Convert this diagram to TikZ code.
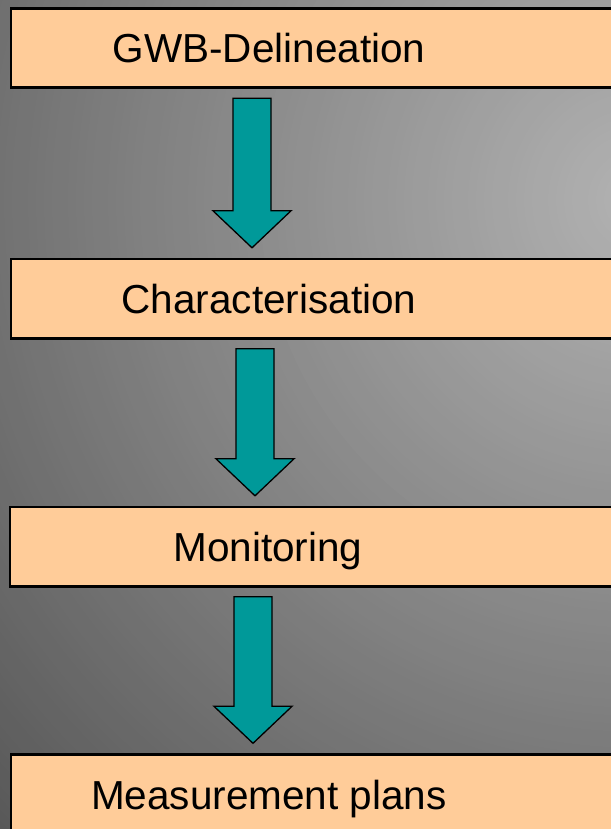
\documentclass[tikz,border=0pt]{standalone}
\usepackage{fontspec}
\setmainfont{Liberation Sans}
\usetikzlibrary{calc}
\definecolor{peach}{RGB}{255,204,153}
\definecolor{teal}{RGB}{0,153,153}
\pgfdeclarelayer{bg}
\pgfdeclarelayer{boxlayer}
\pgfsetlayers{bg,boxlayer,main}
\newcommand{\FlowArrow}[3]{%
  \draw[flowarrow] let \p1=($(#1.south)+(#3,0)$), \p2=($(#2.north)+(#3,0)$),
      \n1={\y1-10.5pt}, \n2={\y2+11pt}, \n3={\y2+48pt} in
    (\x1-19pt,\n1) -- (\x1+19pt,\n1) -- (\x1+19pt,\n3) -- (\x1+39pt,\n3)
    -- (\x1,\n2) -- (\x1-39pt,\n3) -- (\x1-19pt,\n3) -- cycle;}
\begin{document}
\begin{tikzpicture}[x=1pt,y=-1pt,
  stagebox/.style={minimum width=516pt,minimum height=79pt,inner sep=0pt,
    text height=30pt,text depth=0pt,font=\fontsize{40.5}{48}\selectfont},
  boxframe/.style={draw=black,line width=2.6pt,fill=peach},
  flowarrow/.style={draw=black,line width=1.3pt,fill=teal,line join=miter}]
\useasboundingbox (0,0) rectangle (610,829);
\clip (0,0) rectangle (610,829);
\begin{pgfonlayer}{bg}
\fill[black!70] (0,0) rectangle (610,829);
\foreach \r in {920,912,...,0}{
  \pgfmathsetmacro{\gv}{max(0,(178-0.1*\r)/255)}
  \definecolor{bgc}{gray}{\gv}
  \fill[bgc] (640,200) circle[radius=\r+4];
}
\end{pgfonlayer}
\node[stagebox] (b1) at (269,48) {GWB-Delineation};
\node[stagebox] (b2) at (269,298.5) {Characterisation};
\node[stagebox] (b3) at (268,546.5) {Monitoring};
\node[stagebox] (b4) at (269,794) {Measurement plans};
\begin{pgfonlayer}{boxlayer}
\foreach \b in {b1,b2,b3,b4}
  \draw[boxframe] (\b.north west) rectangle ([xshift=150pt]\b.south east);
\end{pgfonlayer}
\FlowArrow{b1}{b2}{-17}
\FlowArrow{b2}{b3}{-14}
\FlowArrow{b3}{b4}{-15}
\end{tikzpicture}
\end{document}
